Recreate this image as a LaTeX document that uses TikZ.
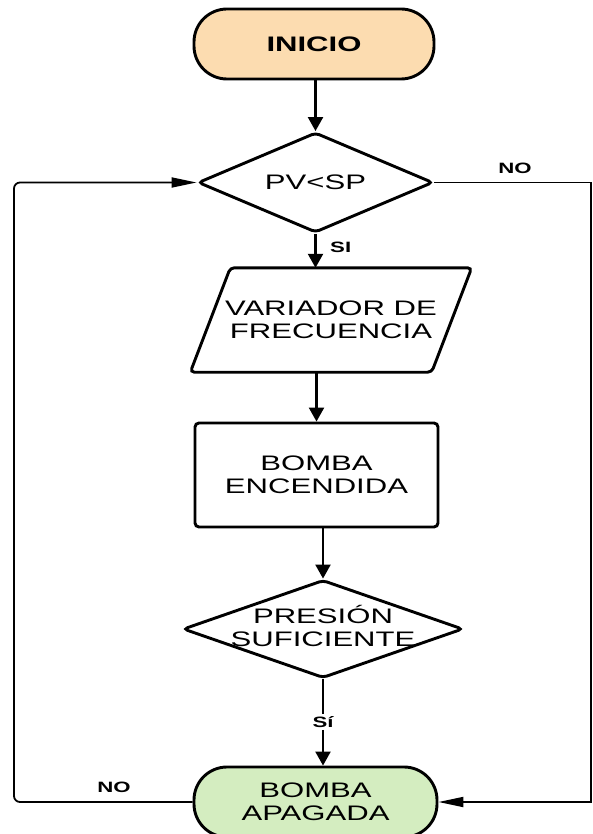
\documentclass[tikz,border=0pt]{standalone}
\usepackage{fontspec}
\setmainfont{Liberation Sans}
\usetikzlibrary{shapes.geometric,arrows.meta}
\definecolor{startfill}{HTML}{FCDCB0}
\definecolor{endfill}{HTML}{D4EDC0}
% horizontally widened lettering
\newcommand\wtext[1]{\scalebox{1.48}[1]{#1}}

\begin{document}
\begin{tikzpicture}[x=1pt,y=-1pt,
  shapeline/.style={draw=black, line width=2.9pt},
  bigtext/.style={font=\fontsize{21}{23}\selectfont, align=center},
  term/.style={shapeline, bigtext, rounded corners=33pt, minimum width=240pt,
    minimum height=70pt, inner sep=0pt},
  decision/.style={shapeline, diamond, rounded corners=4pt, inner sep=0pt},
  proc/.style={shapeline, bigtext, rounded corners=4pt, inner sep=0pt},
  flow/.style={line width=2.3pt, -{Triangle[length=14pt,width=15pt]}},
  back/.style={line width=1.8pt, -{Triangle[length=25pt,width=10pt]}},
  tag/.style={font=\fontsize{15}{15}\selectfont\bfseries, inner sep=2pt}
]
\useasboundingbox (0,0) rectangle (592,834);

% shapes
\node[term, fill=startfill, font=\fontsize{21}{23}\selectfont\bfseries] (ini) at (314,44) {\wtext{INICIO}};
\node[decision, minimum width=235pt, minimum height=100pt] (d1) at (315.5,182.5) {};
\node[bigtext] (d1t) at (d1.center) {\wtext{PV<SP}};
\node[bigtext, minimum width=241pt, minimum height=104pt, inner sep=0pt] (par) at (331,320)
  {\wtext{VARIADOR DE}\\\wtext{FRECUENCIA}};
\draw[shapeline, rounded corners=4pt]
  ([xshift=-20pt]par.south west) -- ([xshift=-20pt]par.south east)
  -- ([xshift=20pt]par.north east) -- ([xshift=20pt]par.north west) -- cycle;
\node[proc, minimum width=243pt, minimum height=104pt] (rect) at (316.5,475)
  {\wtext{BOMBA}\\\wtext{ENCENDIDA}};
\node[decision, minimum width=280pt, minimum height=98pt] (d2) at (323,629) {};
\node[bigtext] (d2t) at ([yshift=3pt]d2.center) {\wtext{PRESIÓN}\\\wtext{SUFICIENTE}};
\node[term, fill=endfill, minimum width=243pt] (apag) at (315.5,802)
  {\wtext{BOMBA}\\\wtext{APAGADA}};

% loop columns
\coordinate (lx) at (14,0);
\coordinate (rx) at (591,0);

% main flow
\draw[flow] (d1.north |- ini.south) -- (d1.north);
\draw[flow] (d1.south) -- (d1.south |- par.north);
\draw[flow] (par.south -| rect.north) -- (rect.north);
\draw[flow] (d2.north |- rect.south) -- (d2.north);
\node[tag] (si2) at (323,722) {\wtext{Sí}};
\draw[line width=2.3pt] (d2.south) -- (si2.north);
\draw[flow] (si2.south) -- (si2.south |- apag.north);

% return paths
\draw[back, rounded corners=6pt] (apag.west) -- (apag.west -| lx) -- (d1.west -| lx) -- (d1.west);
\draw[back] (d1.east) -- (d1.east -| rx) -- (apag.east -| rx) -- (apag.east);

% branch labels
\node[tag, anchor=west] (si1) at (328,247) {\wtext{SI}};
\node[tag] (no1) at (515,168) {\wtext{NO}};
\node[tag] (no2) at (114,787) {\wtext{NO}};
\end{tikzpicture}
\end{document}
